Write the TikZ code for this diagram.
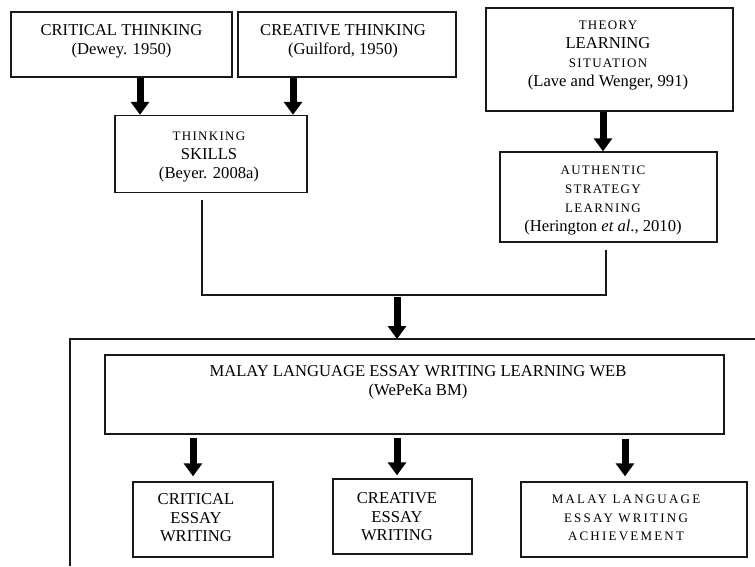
\documentclass[tikz,border=0pt]{standalone}
\usepackage{fontspec}
\setmainfont{Liberation Serif}
\newfontfamily\lsfont[LetterSpace=10]{Liberation Serif}
\newfontfamily\lswfont[LetterSpace=17]{Liberation Serif}
\newcommand\spaced[1]{{\lsfont\fontsize{13}{19}\selectfont #1}}
\newcommand\spacedw[1]{{\lswfont\fontsize{13}{19}\selectfont #1}}
\usetikzlibrary{arrows.meta,calc}
\begin{document}
\begin{tikzpicture}[x=1pt,y=-1pt,
  box/.style={draw=black!90, line width=1.4pt, inner sep=0pt},
  txt/.style={align=center, inner sep=0pt, font=\fontsize{16.6}{19}\selectfont},
  fat/.style={line width=7pt, -{Triangle[width=18pt,length=13pt]}},
  conn/.style={draw=black!90, line width=1.4pt}]
\useasboundingbox (0,0) rectangle (755,566);
% boxes
\node[box, minimum width=221pt, minimum height=65pt] (crit) at (121.5,44.5) {};
\node[box, minimum width=218pt, minimum height=65pt] (creat) at (347,44.5) {};
\node[box, minimum width=192pt, minimum height=77pt] (ts) at (211,154) {};
\node[box, minimum width=247pt, minimum height=103pt] (theory) at (609.5,59.5) {};
\node[box, minimum width=217pt, minimum height=90pt] (auth) at (608.5,197) {};
\node[box, minimum width=619pt, minimum height=79pt] (web) at (414.5,394.5) {};
\node[box, minimum width=140pt, minimum height=75pt] (ce) at (203,519.5) {};
\node[box, minimum width=139pt, minimum height=75pt] (cr) at (402.5,516.5) {};
\node[box, minimum width=226pt, minimum height=75pt] (ma) at (634,519.5) {};
% texts
\node[txt] (critT) at (121.5,41.5) {CRITICAL THINKING\\(Dewey. 1950)};
\node[txt] (creatT) at (343,41.5) {CREATIVE THINKING\\(Guilford, 1950)};
\node[txt] (tsT) at (209,157) {\spaced{THINKING}\\SKILLS\\(Beyer. 2008a)};
\node[txt] (thT) at (608,55) {\spaced{THEORY}\\LEARNING\\\spaced{SITUATION}\\(Lave and Wenger, 991)};
\node[txt] (auT) at (603,200) {\spaced{AUTHENTIC}\\\spaced{STRATEGY}\\\spaced{LEARNING}\\(Herington \textit{et al}., 2010)};
\node[txt] (webT) at (418,382.5) {MALAY LANGUAGE ESSAY WRITING LEARNING WEB\\(WePeKa BM)};
\node[txt, font=\fontsize{16.6}{18.5}\selectfont] (ceT) at (196,518) {CRITICAL\\ESSAY\\WRITING};
\node[txt, font=\fontsize{16.6}{18.5}\selectfont] (crT) at (397,517) {CREATIVE\\ESSAY\\WRITING};
\node[txt, font=\fontsize{16.6}{18.5}\selectfont] (maT) at (626,518) {\spacedw{MALAY LANGUAGE}\\\spacedw{ESSAY WRITING}\\\spacedw{ACHIEVEMENT}};
% frame
\coordinate (fbl) at (70,566);
\coordinate (ftl) at (70,339);
\coordinate (ftr) at (755,339);
\draw[conn] (fbl) -- (ftl) -- (ftr);
% arrows top
\draw[fat] ($(crit.south)+(18.5,0)$) -- ($(ts.north)+(-71,0)$);
\draw[fat] ($(creat.south)+(-54,0)$) -- ($(ts.north)+(82,0)$);
\draw[fat] ($(theory.south)+(-6.5,0)$) -- ($(auth.north)+(-5.5,0)$);
% connector
\coordinate (j) at (397,295);
\draw[conn] ($(ts.south)+(-9,7)$) |- (j) -| ($(auth.south)+(-2.5,7)$);
\draw[fat] ($(j)+(0,2)$) -- (j |- ftl);
% arrows bottom
\draw[fat] ($(web.south -| ce.north)+(-10,3)$) -- ($(ce.north)+(-10,-5)$);
\draw[fat] ($(web.south -| cr.north)+(-5.5,3)$) -- ($(cr.north)+(-5.5,-3)$);
\draw[fat] ($(web.south -| ma.north)+(-9,4)$) -- ($(ma.north)+(-9,-5)$);
\end{tikzpicture}
\end{document}
